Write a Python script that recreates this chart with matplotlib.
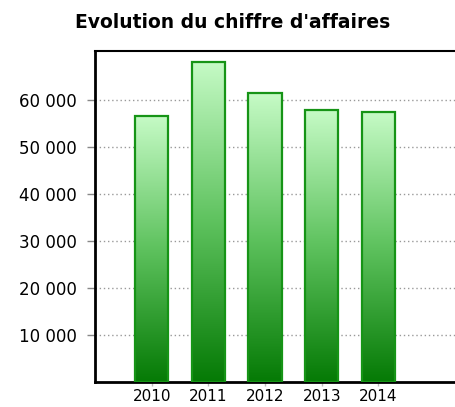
import numpy as np
import matplotlib.pyplot as plt
from matplotlib.colors import LinearSegmentedColormap

# données
annees = ['2010', '2011', '2012', '2013', '2014']
chiffre = [56600, 68100, 61400, 57900, 57500]
yticks = [10000, 20000, 30000, 40000, 50000, 60000]
ylabels = ['10 000', '20 000', '30 000', '40 000', '50 000', '60 000']

fig = plt.figure(figsize=(4.56, 4.07), dpi=100)
ax = fig.add_axes([95 / 456, 25 / 407, 1 - 95 / 456, 331 / 407])

# dégradé vert du haut (clair) vers le bas (foncé), un par barre
cmap = LinearSegmentedColormap.from_list(
    'vert', [(0, '#057a05'), (0.5, '#5ec25e'), (1, '#c6fbc6')])
grad = np.linspace(0, 1, 256).reshape(-1, 1)

x = np.arange(len(annees))
largeur = 0.59
for xi, v in zip(x, chiffre):
    ax.imshow(grad, cmap=cmap, origin='lower', aspect='auto',
              extent=(xi - largeur / 2, xi + largeur / 2, 0, v), zorder=2)
ax.bar(x, chiffre, width=largeur, facecolor='none',
       edgecolor='#169416', linewidth=1.6, zorder=3)

ax.set_xlim(-1, 5.37)
ax.set_ylim(0, 70400)
ax.set_xticks(x)
ax.set_xticklabels(annees, fontsize=11)
ax.set_yticks(yticks)
ax.set_yticklabels(ylabels, fontsize=12)
ax.tick_params(axis='y', length=6, width=1, color='#888888', pad=7)
ax.tick_params(axis='x', length=3, width=1, color='#bbbbbb', pad=2)
ax.yaxis.grid(True, linestyle=(0, (1, 2)), color='#999999', linewidth=1, zorder=1)
ax.set_axisbelow(True)

for s in ['left', 'bottom']:
    ax.spines[s].set_linewidth(2)
ax.spines['top'].set_linewidth(1.5)
ax.spines['right'].set_visible(False)

fig.text(233 / 456, 1 - 23 / 407, "Evolution du chiffre d'affaires",
         ha='center', va='center', fontsize=13.5, fontweight='bold')

fig.savefig('out.png', dpi=100)
